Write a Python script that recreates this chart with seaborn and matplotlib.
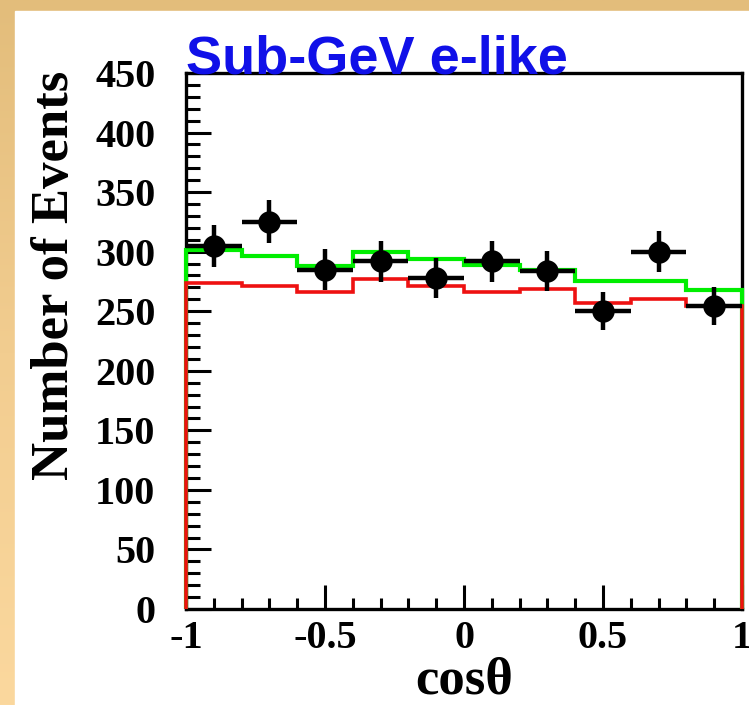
import numpy as np
import matplotlib
matplotlib.use("Agg")
import matplotlib.pyplot as plt
import seaborn as sns

# cos(theta) binning: 10 bins from -1 to 1
bin_edges = [-1.0, -0.8, -0.6, -0.4, -0.2, 0.0, 0.2, 0.4, 0.6, 0.8, 1.0]
bin_centers = [-0.9, -0.7, -0.5, -0.3, -0.1, 0.1, 0.3, 0.5, 0.7, 0.9]

# observed events
data_counts = [305, 325, 285, 292, 278, 292, 284, 250, 300, 254]
# expectation without oscillation (green) and with oscillation (red)
mc_no_osc = [301, 296, 288, 300, 294, 289, 285, 275, 275, 268]
mc_osc = [274, 271, 266, 277, 271, 266, 269, 257, 260, 254]

x_ticks = [-1, -0.5, 0, 0.5, 1]
x_tick_labels = ["-1", "-0.5", "0", "0.5", "1"]
y_ticks = [0, 50, 100, 150, 200, 250, 300, 350, 400, 450]

sns.set_theme(style="white")
plt.rcParams["font.family"] = ["Liberation Serif", "DejaVu Serif"]
plt.rcParams.update({"text.color": "black", "axes.labelcolor": "black",
                     "xtick.color": "black", "ytick.color": "black"})

W, H = 749, 705
fig = plt.figure(figsize=(W / 100, H / 100), dpi=100)
fig.patch.set_facecolor("white")

# tan gradient frame behind the white panel
bg = fig.add_axes([0, 0, 1, 1], zorder=-10)
bg.set_axis_off()
grad = np.linspace(0, 1, 256).reshape(-1, 1)
cmap = matplotlib.colors.LinearSegmentedColormap.from_list(
    "frame", ["#E3BD7B", "#F2CD90", "#FBD89E"])
bg.imshow(grad, aspect="auto", cmap=cmap, extent=[0, 1, 0, 1])
bg.add_patch(plt.Rectangle((15 / W, 0), 1, 1 - 11 / H, color="white",
                           transform=bg.transAxes))
bg.set_xlim(0, 1)
bg.set_ylim(0, 1)

ax = fig.add_axes([186 / W, 1 - 609 / H, (742 - 186) / W, (609 - 73) / H])
ax.set_facecolor("white")

# Monte Carlo histograms
ax.stairs(mc_no_osc, bin_edges, baseline=0, color="#00EE00", linewidth=3.0,
          zorder=3, clip_on=False)
ax.stairs(mc_osc, bin_edges, baseline=0, color="#EE1111", linewidth=2.6,
          zorder=3.1, clip_on=False)

# data with statistical errors
err = np.sqrt(np.array(data_counts, dtype=float))
ax.errorbar(bin_centers, data_counts, xerr=0.1, yerr=err, fmt="none",
            ecolor="black", elinewidth=3.2, capsize=0, zorder=4)
sns.scatterplot(x=bin_centers, y=data_counts, ax=ax, color="black", s=260,
                marker="o", edgecolor="black", linewidth=0, zorder=5)

ax.set_xlim(-1, 1)
ax.set_ylim(0, 450)
ax.set_xticks(x_ticks)
ax.set_xticklabels(x_tick_labels)
ax.set_yticks(y_ticks)
ax.xaxis.set_minor_locator(matplotlib.ticker.MultipleLocator(0.1))
ax.yaxis.set_minor_locator(matplotlib.ticker.MultipleLocator(10))

for s in ax.spines.values():
    s.set_color("black")
    s.set_linewidth(2.4)

ax.tick_params(axis="both", which="both", direction="in", color="black",
               labelcolor="black", bottom=True, left=True, top=False,
               right=False)
ax.tick_params(axis="x", which="major", length=17, width=2.2, pad=8,
               labelsize=29)
ax.tick_params(axis="x", which="minor", length=8, width=2.2)
ax.tick_params(axis="y", which="major", length=18, width=2.2, pad=22,
               labelsize=29)
ax.tick_params(axis="y", which="minor", length=10, width=2.2)
for lab in ax.get_xticklabels() + ax.get_yticklabels():
    lab.set_fontweight("bold")

ax.set_xlabel("cosθ", fontsize=38, fontweight="bold")
ax.xaxis.set_label_coords(0.5, (609 - 681) / 536)
ax.xaxis.label.set_va("center")
ax.set_ylabel("Number of Events", fontsize=38, fontweight="bold")
ax.yaxis.set_label_coords((55 - 186) / 556, (609 - 275) / 536)
ax.yaxis.label.set_va("center")

ax.text(0.0, 1.0, "Sub-GeV e-like", transform=ax.transAxes, ha="left",
        va="baseline", color="#1010E8", fontsize=39, fontweight="bold",
        family=["Liberation Sans", "DejaVu Sans"], zorder=6)

fig.savefig("out.png", dpi=100, facecolor=fig.get_facecolor())
